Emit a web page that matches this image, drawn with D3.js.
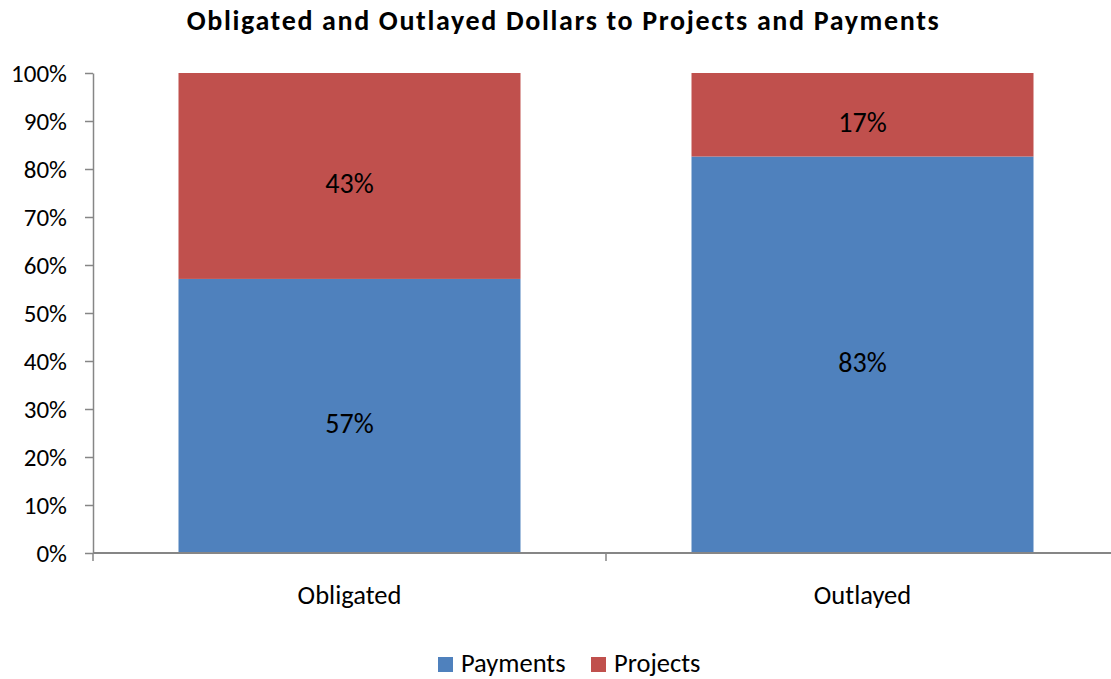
<!DOCTYPE html>
<html>
<head>
<meta charset="utf-8">
<script src="https://cdn.jsdelivr.net/npm/d3@7"></script>
<style>
  body { margin: 0; background: #fff; }
  text { font-family: Carlito, Lato, "Open Sans", sans-serif; fill: #000; }
</style>
</head>
<body>
<div id="chart"></div>
<script>
// Obligated vs Outlayed - 100% stacked columns
const categories = ["Obligated", "Outlayed"];
const seriesNames = ["Payments", "Projects"];
const payments = [0.571, 0.826];
const projects = [0.429, 0.174];
const yTicks = [0, 0.1, 0.2, 0.3, 0.4, 0.5, 0.6, 0.7, 0.8, 0.9, 1.0];

const width = 1111;
const height = 679;
const margin = { top: 73, right: -8, bottom: 126, left: 93 };

const colors = { Payments: "#4F81BD", Projects: "#C0504D" };
const axisColor = "#868686";

const rows = categories.map((c, i) => ({ category: c, Payments: payments[i], Projects: projects[i] }));
const stacked = d3.stack().keys(seriesNames)(rows);

const x = d3.scaleBand()
    .domain(categories)
    .range([margin.left, width - margin.right])
    .paddingInner(1 / 3)
    .paddingOuter(1 / 6);

const y = d3.scaleLinear()
    .domain([0, 1])
    .range([height - margin.bottom, margin.top]);

const svg = d3.select("#chart").append("svg")
    .attr("width", width)
    .attr("height", height);

// bars
svg.selectAll("g.series")
    .data(stacked)
    .join("g")
    .attr("class", "series")
    .attr("fill", d => colors[d.key])
    .selectAll("rect")
    .data(d => d)
    .join("rect")
    .attr("x", d => x(d.data.category))
    .attr("y", d => y(d[1]))
    .attr("width", x.bandwidth())
    .attr("height", d => y(d[0]) - y(d[1]));

// data labels (Excel sits them a little below the segment middle)
const pct = d3.format(".0%");
svg.selectAll("g.labels")
    .data(stacked)
    .join("g")
    .attr("class", "labels")
    .selectAll("text")
    .data(d => d)
    .join("text")
    .attr("x", d => x(d.data.category) + x.bandwidth() / 2)
    .attr("y", d => y((d[0] + d[1]) / 2) + 7)
    .attr("dy", "0.35em")
    .attr("text-anchor", "middle")
    .style("font-size", "28px")
    .text(d => pct(d[1] - d[0]));

// y axis
const yAxis = svg.append("g")
    .attr("transform", `translate(${margin.left},0)`)
    .call(d3.axisLeft(y).tickValues(yTicks).tickFormat(d3.format(".0%")).tickSize(8).tickSizeOuter(0));
yAxis.select(".domain").attr("stroke", axisColor).attr("stroke-width", 1.5);
yAxis.selectAll(".tick line").attr("stroke", axisColor).attr("stroke-width", 1.5);
yAxis.selectAll(".tick text")
    .attr("x", -26)
    .style("font-size", "25px")
    .style("font-family", "Carlito, Lato, 'Open Sans', sans-serif")
    .style("fill", "#000");

// x axis
const xAxis = svg.append("g")
    .attr("transform", `translate(0,${y(0)})`);
xAxis.append("line")
    .attr("x1", margin.left).attr("x2", width)
    .attr("stroke", axisColor).attr("stroke-width", 2);
const boundaries = [margin.left, (x("Obligated") + x.bandwidth() + x("Outlayed")) / 2];
xAxis.selectAll("line.tick")
    .data(boundaries)
    .join("line")
    .attr("class", "tick")
    .attr("x1", d => d).attr("x2", d => d)
    .attr("y1", 0).attr("y2", 8)
    .attr("stroke", axisColor).attr("stroke-width", 1.5);
xAxis.selectAll("text")
    .data(categories)
    .join("text")
    .attr("x", d => x(d) + x.bandwidth() / 2)
    .attr("y", 51)
    .attr("text-anchor", "middle")
    .style("font-size", "26.5px")
    .text(d => d);

// title
svg.append("text")
    .attr("x", width / 2 + 8)
    .attr("y", 30)
    .attr("text-anchor", "middle")
    .style("font-size", "28px")
    .style("font-weight", "bold")
    .style("letter-spacing", "1.65px")
    .text("Obligated and Outlayed Dollars to Projects and Payments");

// legend
const legend = svg.append("g")
    .attr("transform", "translate(438,657)");
const legendX = [0, 153];
seriesNames.forEach((s, i) => {
    const g = legend.append("g").attr("transform", `translate(${legendX[i]},0)`);
    g.append("rect")
        .attr("width", 15)
        .attr("height", 15)
        .attr("fill", colors[s]);
    g.append("text")
        .attr("x", 23)
        .attr("y", 15)
        .style("font-size", "26.5px")
        .text(s);
});
</script>
</body>
</html>
